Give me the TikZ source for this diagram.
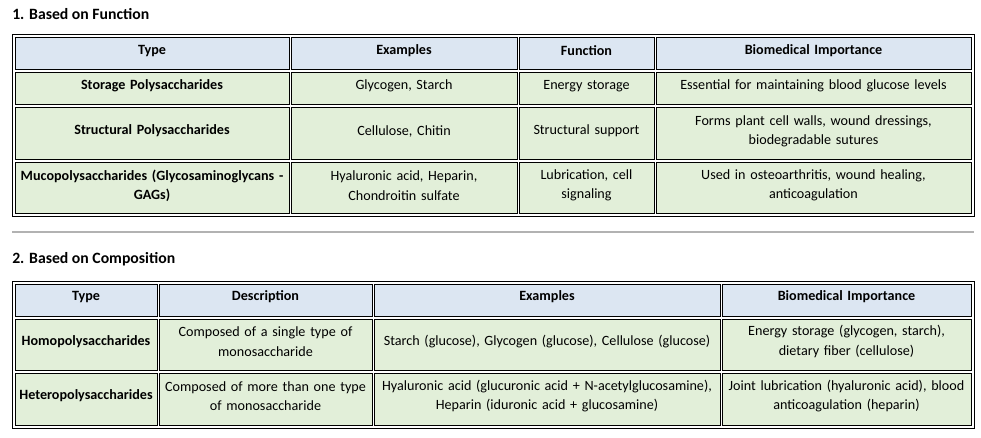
\documentclass[tikz,border=0pt]{standalone}
\usepackage{fontspec}
\setmainfont{Carlito}
\definecolor{hdr}{HTML}{DCE6F2}
\definecolor{bod}{HTML}{E2EFD9}
\newcommand{\cellb}[7]{%
  \fill[#5] (#1,-#2) rectangle (#3,-#4);
  \draw[cellline] (#1,-#2) rectangle (#3,-#4);
  \node[celltext,text width=(#3-#1)*0.75pt] (#7) at ({(#1+#3)/2},{-(#2+#4)/2+3}) {#6};}
\begin{document}
\begin{tikzpicture}[x=0.75pt,y=0.75pt,
  cellline/.style={draw=black,line width=0.75pt},
  outer/.style={draw=black,line width=0.75pt},
  celltext/.style={align=center,font=\fontsize{10.6pt}{14.5pt}\selectfont,inner sep=0pt},
  title/.style={anchor=west,font=\fontsize{11.8pt}{14pt}\selectfont\bfseries,inner sep=0pt}]
\useasboundingbox[fill=white] (0,0) rectangle (981,-438);
\node[title] (t1) at (12,-14) {1. Based on Function};
\draw[outer] (12,-35) rectangle (974,-217);
\cellb{15}{38}{289}{70}{hdr}{\bfseries Type}{h11}
\cellb{291}{38}{517}{70}{hdr}{\bfseries Examples}{h12}
\cellb{519}{38}{654}{70}{hdr}{\bfseries Function}{h13}
\cellb{656}{38}{971}{70}{hdr}{\bfseries Biomedical Importance}{h14}
\cellb{15}{73}{289}{105}{bod}{\bfseries Storage Polysaccharides}{a11}
\cellb{291}{73}{517}{105}{bod}{Glycogen, Starch}{a12}
\cellb{519}{73}{654}{105}{bod}{Energy storage}{a13}
\cellb{656}{73}{971}{105}{bod}{Essential for maintaining blood glucose levels}{a14}
\cellb{15}{108}{289}{160}{bod}{\bfseries Structural Polysaccharides}{a21}
\cellb{291}{108}{517}{160}{bod}{Cellulose, Chitin}{a22}
\cellb{519}{108}{654}{160}{bod}{Structural support}{a23}
\cellb{656}{108}{971}{160}{bod}{Forms plant cell walls, wound dressings,\\ biodegradable sutures}{a24}
\cellb{15}{163}{289}{214}{bod}{\bfseries Mucopolysaccharides (Glycosaminoglycans -\\ GAGs)}{a31}
\cellb{291}{163}{517}{214}{bod}{Hyaluronic acid, Heparin,\\ Chondroitin sulfate}{a32}
\cellb{519}{163}{654}{214}{bod}{Lubrication, cell\\ signaling}{a33}
\cellb{656}{163}{971}{214}{bod}{Used in osteoarthritis, wound healing,\\ anticoagulation}{a34}
\draw[gray!60,line width=1pt] (12,-232) -- (974,-232);
\node[title] (t2) at (12,-259) {2. Based on Composition};
\draw[outer] (12,-281) rectangle (974,-428);
\cellb{15}{284}{157}{316}{hdr}{\bfseries Type}{h21}
\cellb{159}{284}{372}{316}{hdr}{\bfseries Description}{h22}
\cellb{374}{284}{720}{316}{hdr}{\bfseries Examples}{h23}
\cellb{722}{284}{971}{316}{hdr}{\bfseries Biomedical Importance}{h24}
\cellb{15}{319}{157}{370}{bod}{\bfseries Homopolysaccharides}{b11}
\cellb{159}{319}{372}{370}{bod}{Composed of a single type of\\ monosaccharide}{b12}
\cellb{374}{319}{720}{370}{bod}{Starch (glucose), Glycogen (glucose), Cellulose (glucose)}{b13}
\cellb{722}{319}{971}{370}{bod}{Energy storage (glycogen, starch),\\ dietary fiber (cellulose)}{b14}
\cellb{15}{373}{157}{425}{bod}{\bfseries Heteropolysaccharides}{b21}
\cellb{159}{373}{372}{425}{bod}{Composed of more than one type\\ of monosaccharide}{b22}
\cellb{374}{373}{720}{425}{bod}{Hyaluronic acid (glucuronic acid + N-acetylglucosamine),\\ Heparin (iduronic acid + glucosamine)}{b23}
\cellb{722}{373}{971}{425}{bod}{Joint lubrication (hyaluronic acid), blood\\ anticoagulation (heparin)}{b24}
\end{tikzpicture}
\end{document}
